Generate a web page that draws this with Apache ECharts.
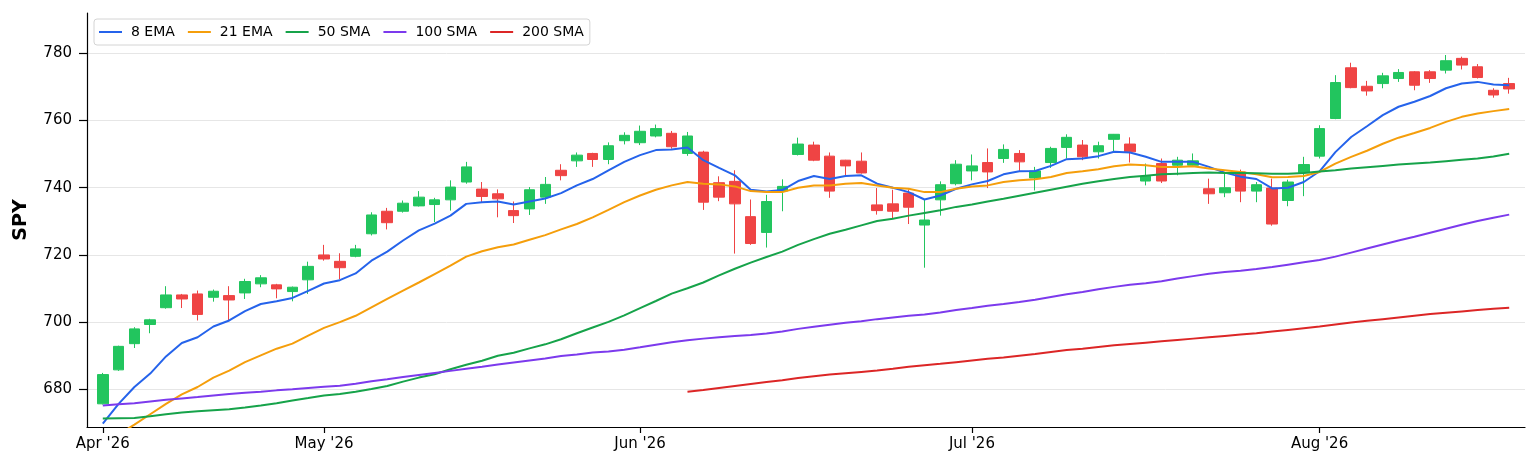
<!DOCTYPE html>
<html>
<head>
<meta charset="utf-8">
<title>SPY — candles with moving averages</title>
<script src="https://cdn.jsdelivr.net/npm/echarts@6.0.0/dist/echarts.min.js"></script>
<style>
  html, body { margin: 0; padding: 0; background: #ffffff; }
  #chart { width: 1538px; height: 469px; }
</style>
</head>
<body>
<div id="chart"></div>
<script>
// SPY daily candles, Apr 13 – Aug 19 2026, with 8/21 EMA and 50/100/200 SMA overlays.
// All values.

const dates = [
  '2026-04-13','2026-04-14','2026-04-15','2026-04-16','2026-04-17','2026-04-20','2026-04-21','2026-04-22',
  '2026-04-23','2026-04-24','2026-04-27','2026-04-28','2026-04-29','2026-04-30',
  '2026-05-01','2026-05-04','2026-05-05','2026-05-06','2026-05-07','2026-05-08','2026-05-11','2026-05-12',
  '2026-05-13','2026-05-14','2026-05-15','2026-05-18','2026-05-19','2026-05-20','2026-05-21','2026-05-22',
  '2026-05-26','2026-05-27','2026-05-28','2026-05-29',
  '2026-06-01','2026-06-02','2026-06-03','2026-06-04','2026-06-05','2026-06-08','2026-06-09','2026-06-10',
  '2026-06-11','2026-06-12','2026-06-15','2026-06-16','2026-06-17','2026-06-18','2026-06-22','2026-06-23',
  '2026-06-24','2026-06-25','2026-06-26','2026-06-29','2026-06-30',
  '2026-07-01','2026-07-02','2026-07-06','2026-07-07','2026-07-08','2026-07-09','2026-07-10','2026-07-13',
  '2026-07-14','2026-07-15','2026-07-16','2026-07-17','2026-07-20','2026-07-21','2026-07-22','2026-07-23',
  '2026-07-24','2026-07-27','2026-07-28','2026-07-29','2026-07-30','2026-07-31',
  '2026-08-03','2026-08-04','2026-08-05','2026-08-06','2026-08-07','2026-08-10','2026-08-11','2026-08-12',
  '2026-08-13','2026-08-14','2026-08-17','2026-08-18','2026-08-19'
];

const opens = [
  675.7, 685.8, 693.6, 699.3, 704.3, 708.1, 708.4, 707.4, 707.9, 708.7, 711.4, 711.1, 709.1, 712.6,
  720.0, 718.1, 719.6, 726.3, 733.0, 733.0, 734.6, 735.0, 736.4, 741.7, 739.6, 738.2, 733.2, 733.7,
  737.2, 745.2, 748.0, 750.2, 748.4, 754.0,
  753.4, 755.4, 756.2, 750.2, 750.6, 741.5, 741.9, 731.4, 726.7, 739.0, 749.9, 752.7, 749.4, 748.2,
  747.9, 734.9, 735.2, 738.4, 728.9, 736.4, 741.2,
  745.0, 747.5, 748.7, 750.2, 742.9, 747.5, 752.0, 752.7, 750.7, 754.4, 753.0, 742.0, 747.2, 746.7,
  746.7, 739.7, 738.5, 744.7, 739.0, 739.9, 736.2, 744.5,
  749.4, 760.6, 775.7, 770.2, 771.0, 772.5, 774.5, 774.5, 775.0, 778.5, 776.0, 769.0, 771.0
];
const closes = [
  684.4, 692.8, 698.0, 700.7, 708.1, 706.9, 702.3, 709.2, 706.6, 712.1, 713.2, 709.9, 710.4, 716.6,
  718.8, 716.2, 721.8, 731.9, 729.6, 735.4, 737.2, 736.4, 740.2, 746.2, 737.4, 736.7, 731.7, 739.4,
  741.0, 743.6, 749.7, 748.4, 752.5, 755.6,
  756.8, 757.6, 752.2, 755.4, 735.7, 737.2, 735.2, 723.4, 735.9, 740.4, 753.0, 748.2, 739.0, 746.5,
  744.4, 733.2, 733.0, 734.2, 730.4, 740.9, 747.0,
  746.5, 744.7, 751.4, 747.7, 745.0, 751.7, 755.0, 749.2, 752.5, 755.9, 750.7, 743.4, 742.0, 748.2,
  748.0, 738.2, 740.0, 739.0, 740.9, 729.2, 741.7, 746.9,
  757.6, 771.3, 769.8, 768.8, 773.3, 774.3, 770.5, 772.5, 777.8, 776.5, 772.8, 767.6, 769.4
];
const lows = [
  675.5, 685.5, 692.3, 696.7, 704.0, 704.2, 700.5, 706.1, 700.5, 706.9, 710.4, 707.1, 706.2, 708.4,
  718.3, 712.8, 719.3, 725.8, 727.6, 732.6, 734.4, 729.8, 733.2, 741.2, 735.7, 731.2, 729.5, 731.9,
  735.2, 742.2, 746.2, 746.2, 747.0, 752.9,
  752.7, 755.0, 751.6, 749.5, 733.4, 736.0, 720.4, 723.0, 722.2, 733.0, 749.6, 747.9, 737.0, 743.7,
  744.2, 732.0, 730.7, 729.2, 716.2, 731.7, 740.7,
  742.2, 739.9, 747.4, 745.0, 739.2, 745.9, 748.7, 748.2, 748.7, 750.7, 747.5, 740.7, 741.4, 743.7,
  746.5, 735.2, 737.2, 735.7, 735.7, 728.7, 734.5, 737.5,
  748.7, 760.4, 769.6, 767.4, 769.6, 771.5, 769.0, 771.2, 774.0, 775.2, 772.5, 766.8, 768.0
];
const highs = [
  684.9, 693.0, 698.5, 701.0, 710.7, 708.4, 709.4, 709.7, 710.7, 712.9, 714.0, 711.4, 710.6, 718.0,
  723.0, 720.5, 723.0, 732.7, 734.0, 736.2, 739.0, 737.0, 742.2, 747.7, 741.7, 739.5, 735.9, 740.2,
  743.2, 747.0, 750.5, 750.4, 753.5, 756.5,
  758.5, 758.8, 756.9, 756.6, 751.0, 743.4, 745.2, 736.5, 737.9, 742.5, 754.9, 753.7, 750.5, 748.3,
  750.5, 739.9, 739.4, 739.5, 736.5, 741.9, 748.2,
  749.9, 751.7, 752.9, 751.2, 746.2, 752.2, 755.9, 754.2, 753.7, 756.0, 755.0, 747.2, 748.7, 749.2,
  750.2, 742.7, 744.4, 745.4, 741.7, 742.7, 742.4, 749.2,
  758.6, 773.5, 777.2, 771.8, 774.2, 775.3, 774.7, 775.0, 779.5, 779.0, 776.8, 769.6, 772.7
];

const ema8 = [
  669.8, 675.7, 680.7, 684.7, 689.8, 693.8, 695.5, 698.7, 700.5, 703.3, 705.4, 706.2, 707.2, 709.3,
  711.5, 712.5, 714.5, 718.3, 721.0, 724.3, 727.3, 729.3, 731.7, 735.2, 735.7, 735.9, 735.0, 735.9,
  736.8, 738.4, 740.7, 742.6, 745.2, 747.7,
  749.7, 751.2, 751.4, 752.0, 748.2, 745.9, 743.7, 739.4, 738.9, 739.3, 742.0, 743.5, 742.6, 743.5,
  743.7, 741.2, 740.0, 738.7, 736.5, 737.7, 739.7,
  741.0, 742.0, 744.0, 744.9, 745.0, 746.5, 748.5, 748.7, 749.4, 750.7, 750.5, 749.2, 747.7, 747.7,
  747.7, 746.2, 744.5, 743.3, 742.6, 739.8, 740.0, 741.7,
  744.9, 750.6, 755.1, 758.3, 761.6, 764.1, 765.6, 767.3, 769.6, 771.0, 771.5, 770.7, 770.5
];
const ema21 = [
  663.6, 666.6, 669.5, 672.6, 675.7, 678.5, 680.7, 683.5, 685.6, 688.1, 690.1, 692.1, 693.6, 696.0,
  698.3, 700.0, 701.9, 704.4, 706.9, 709.4, 711.8, 714.3, 716.8, 719.5, 721.1, 722.3, 723.1, 724.5,
  725.9, 727.6, 729.2, 731.2, 733.4, 735.7,
  737.7, 739.4, 740.7, 741.7, 741.2, 741.0, 740.4, 739.0, 738.7, 738.7, 740.0, 740.7, 740.7, 741.2,
  741.4, 740.7, 740.0, 739.7, 738.7, 738.7, 739.7,
  740.4, 740.7, 741.7, 742.2, 742.5, 743.2, 744.4, 744.9, 745.5, 746.4, 746.9, 746.7, 746.2, 746.2,
  746.4, 745.7, 745.2, 744.7, 744.0, 743.1, 743.2, 743.5,
  744.7, 747.2, 749.2, 751.0, 753.1, 754.9, 756.3, 757.8, 759.6, 761.1, 762.1, 762.8, 763.4
];
const sma50 = [
  671.3, 671.4, 671.5, 672.0, 672.6, 673.1, 673.5, 673.8, 674.1, 674.6, 675.2, 675.9, 676.7, 677.4,
  678.2, 678.6, 679.3, 680.1, 681.0, 682.3, 683.5, 684.5, 686.0, 687.3, 688.5, 690.0, 690.9, 692.2,
  693.4, 694.9, 696.7, 698.4, 700.1, 702.0,
  704.2, 706.3, 708.5, 710.1, 711.8, 713.9, 715.9, 717.7, 719.4, 721.0, 723.0, 724.7, 726.3, 727.5,
  728.8, 730.1, 730.8, 731.7, 732.5, 733.3, 734.3,
  735.0, 735.9, 736.7, 737.6, 738.5, 739.4, 740.3, 741.2, 741.9, 742.6, 743.2, 743.6, 744.0, 744.2,
  744.4, 744.5, 744.4, 744.4, 744.3, 744.2, 744.2, 744.4,
  744.8, 745.2, 745.7, 746.1, 746.5, 746.9, 747.2, 747.5, 747.9, 748.3, 748.7, 749.3, 750.1
];
const sma100 = [
  675.2, 675.6, 675.9, 676.4, 676.9, 677.3, 677.7, 678.2, 678.6, 679.0, 679.3, 679.7, 680.0, 680.4,
  680.8, 681.1, 681.7, 682.4, 683.0, 683.7, 684.3, 684.9, 685.5, 686.1, 686.7, 687.4, 688.0, 688.6,
  689.2, 689.9, 690.4, 691.0, 691.3, 691.8,
  692.5, 693.3, 694.0, 694.6, 695.1, 695.5, 695.9, 696.2, 696.6, 697.2, 698.0, 698.6, 699.2, 699.8,
  700.3, 700.9, 701.4, 701.9, 702.3, 702.9, 703.6,
  704.2, 704.9, 705.4, 706.0, 706.7, 707.5, 708.3, 709.0, 709.8, 710.5, 711.1, 711.6, 712.2, 713.0,
  713.7, 714.4, 714.9, 715.3, 715.8, 716.4, 717.1, 717.8,
  718.5, 719.5, 720.7, 721.9, 723.1, 724.3, 725.4, 726.6, 727.8, 729.0, 730.1, 731.1, 732.0
];
// 200 SMA only has enough history from Jun 4 on
const sma200 = [
  null, null, null, null, null, null, null, null, null, null, null, null, null, null,
  null, null, null, null, null, null, null, null, null, null, null, null, null, null,
  null, null, null, null, null, null,
  null, null, null, 679.3, 679.8, 680.4, 681.0, 681.6, 682.2, 682.7, 683.4, 683.9, 684.4, 684.8,
  685.2, 685.6, 686.1, 686.7, 687.2, 687.6, 688.1,
  688.6, 689.1, 689.5, 690.0, 690.5, 691.1, 691.7, 692.1, 692.6, 693.1, 693.5, 693.9, 694.3, 694.7,
  695.1, 695.5, 695.9, 696.3, 696.7, 697.2, 697.7, 698.2,
  698.7, 699.3, 699.9, 700.4, 700.9, 701.4, 701.9, 702.4, 702.8, 703.2, 703.6, 704.0, 704.3
];

const yTicks = [680, 700, 720, 740, 760, 780];
const monthNames = ['Jan','Feb','Mar','Apr','May','Jun','Jul','Aug','Sep','Oct','Nov','Dec'];

(function () {
  'use strict';

  const UP_COLOR = '#22c55e';
  const DOWN_COLOR = '#ef4444';
  const LINE_SERIES = [
    { name: '8 EMA',   values: ema8,   color: '#2563eb' },
    { name: '21 EMA',  values: ema21,  color: '#f59e0b' },
    { name: '50 SMA',  values: sma50,  color: '#16a34a' },
    { name: '100 SMA', values: sma100, color: '#7c3aed' },
    { name: '200 SMA', values: sma200, color: '#dc2626' },
  ];
  const FONT = 'DejaVu Sans, sans-serif';
  const AXIS_COLOR = '#000000';
  const GRID_COLOR = '#e6e6e6';

  // one empty slot on each side so the first/last candle sit a bar in from the spines
  const cats = [''].concat(dates, ['']);
  const pad = (arr) => ['-'].concat(arr.map(v => (v === null ? '-' : v)), ['-']);

  const candles = [['-', '-', '-', '-']];
  dates.forEach((d, i) => candles.push([opens[i], closes[i], lows[i], highs[i]]));
  candles.push(['-', '-', '-', '-']);

  // show a tick + label on the first trading day of each month
  function isMonthStart(idx) {
    const v = cats[idx];
    return !!v && v.slice(0, 7) !== cats[idx - 1].slice(0, 7);
  }
  function fmtMonth(v) {
    if (!v) return '';
    return monthNames[parseInt(v.slice(5, 7), 10) - 1] + " '" + v.slice(2, 4);
  }

  const series = [{
    name: 'SPY',
    type: 'candlestick',
    barWidth: 11,
    z: 2,
    itemStyle: {
      color: UP_COLOR, color0: DOWN_COLOR,
      borderColor: UP_COLOR, borderColor0: DOWN_COLOR,
      borderWidth: 1,
    },
    data: candles,
  }];

  LINE_SERIES.forEach(s => {
    series.push({
      name: s.name,
      type: 'line',
      showSymbol: false,
      smooth: false,
      clip: true,
      z: 5,
      lineStyle: { width: 2, color: s.color },
      itemStyle: { color: s.color },
      emphasis: { disabled: true },
      data: pad(s.values),
    });
  });

  const chart = echarts.init(document.getElementById('chart'), null, { renderer: 'canvas' });
  chart.setOption({
    animation: false,
    backgroundColor: '#ffffff',
    textStyle: { fontFamily: FONT, color: '#000' },
    grid: { left: 87, right: 13, top: 13, bottom: 42 },
    legend: {
      data: LINE_SERIES.map(s => s.name),
      left: 94, top: 19,
      icon: 'rect',
      itemWidth: 23, itemHeight: 2, itemGap: 13,
      padding: [6, 6, 6, 5],
      backgroundColor: 'rgba(255,255,255,0.85)',
      borderColor: '#d4d4d4', borderWidth: 1, borderRadius: 3,
      textStyle: { fontFamily: FONT, fontSize: 14, color: '#000', padding: [0, 0, 0, 4] },
    },
    xAxis: {
      type: 'category',
      data: cats,
      boundaryGap: false,
      axisLine: { onZero: false, lineStyle: { color: AXIS_COLOR, width: 1.2 } },
      axisTick: { interval: isMonthStart, length: 6, lineStyle: { color: AXIS_COLOR, width: 1.2 } },
      axisLabel: {
        interval: isMonthStart, formatter: fmtMonth,
        fontFamily: FONT, fontSize: 15, color: '#000', margin: 10,
      },
      splitLine: { show: false },
    },
    yAxis: {
      type: 'value',
      min: 668.8, max: 792,
      name: 'SPY',
      nameLocation: 'middle',
      nameGap: 56,
      nameTextStyle: { fontFamily: FONT, fontSize: 19, fontWeight: 'bold', color: '#000' },
      axisLine: { show: true, lineStyle: { color: AXIS_COLOR, width: 1.2 } },
      axisTick: { show: true, customValues: yTicks, length: 8, lineStyle: { color: AXIS_COLOR, width: 1.2 } },
      axisLabel: { customValues: yTicks, fontFamily: FONT, fontSize: 15, color: '#000', margin: 15 },
      splitLine: { show: true, lineStyle: { color: GRID_COLOR, width: 1 } },
    },
    series,
  });
})();
</script>
</body>
</html>
